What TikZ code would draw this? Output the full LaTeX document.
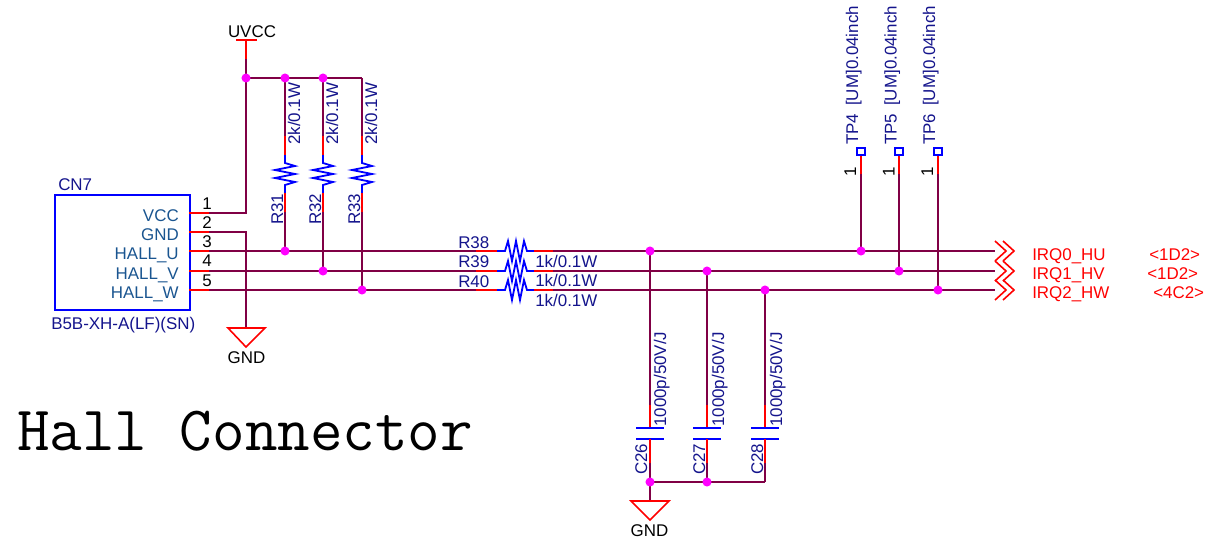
\documentclass[tikz,border=0pt]{standalone}
\usepackage{fontspec}
\setmainfont{Liberation Sans}
\definecolor{wirec}{HTML}{800045}
\definecolor{labc}{HTML}{14148C}
\definecolor{pinc}{HTML}{1A5590}
\definecolor{juncc}{RGB}{255,0,255}
\definecolor{pure}{RGB}{255,0,0}
\definecolor{symc}{RGB}{0,0,255}
\tikzset{
  wire/.style={draw=wirec,line width=1.35pt},
  stub/.style={draw=pure,line width=1.35pt},
  sym/.style={draw=symc,line width=1.35pt,line join=miter},
  powr/.style={draw=pure,line width=1.2pt},
  junc/.style={circle,fill=juncc,inner sep=0pt,minimum size=6.8pt},
  txt/.style={inner sep=0pt,font=\fontsize{12.7}{14}\selectfont},
  lab/.style={txt,text=labc,anchor=base west},
  vlab/.style={txt,text=labc,anchor=base west,rotate=90},
  pinname/.style={txt,text=pinc,anchor=base east},
  pinnum/.style={txt,text=black,anchor=base},
  redlab/.style={txt,text=pure,anchor=base west},
}
\newcommand{\vresistor}[2]{%
  \draw[sym] (#1) -- ++(0,8) -- ++(10,3) -- ++(-20,4) -- ++(20,4) -- ++(-20,4) -- ++(20,4) -- ++(-10,3) -- (#2);}
\newcommand{\hresistor}[2]{%
  \draw[sym] (#1) -- ++(8,0) -- ++(3,-10) -- ++(4,20) -- ++(4,-20) -- ++(4,20) -- ++(4,-20) -- ++(3,10) -- (#2);}
\begin{document}
\begin{tikzpicture}[x=0.75pt,y=-0.75pt]
\useasboundingbox (0,0) rectangle (1220,546);
% connector
\node[draw=symc,line width=1.35pt,minimum width=101.25pt,minimum height=86.25pt,inner sep=0pt,anchor=north west] (cn) at (54,194) {};
\foreach \n/\y in {1/213,2/232,3/251,4/271,5/290}{
  \coordinate (p\n) at (189,\y);
  \coordinate (pe\n) at (209,\y);
}
% junctions positions
\coordinate (uv) at (246,40);
\coordinate (uvs) at (246,59);
\coordinate (jtop) at (246,78);
\coordinate (t1) at (285,78);
\coordinate (t2) at (323,78);
\coordinate (t3) at (362,78);
\coordinate (gt) at (246,328);
\coordinate (gl) at (228,328);
\coordinate (gr) at (265,328);
\coordinate (gb) at (246,347);
% nets
\draw[wire] (pe1) -- (jtop |- pe1) -- (uvs);
\draw[wire] (jtop) -- (t3);
\draw[wire] (pe2) -- (gt |- pe2) -- (gt);
\coordinate (rU) at (476,251); \coordinate (rV) at (476,271); \coordinate (rW) at (476,290);
\coordinate (oU) at (553,251); \coordinate (oV) at (553,271); \coordinate (oW) at (553,290);
\coordinate (eU) at (995,251); \coordinate (eV) at (995,271); \coordinate (eW) at (995,290);
\draw[wire] (pe3) -- (rU);
\draw[wire] (pe4) -- (rV);
\draw[wire] (pe5) -- (rW);
\draw[wire] (oU) -- (eU);
\draw[wire] (oV) -- (eV);
\draw[wire] (oW) -- (eW);
\foreach \n in {1,...,5}{\draw[stub] (p\n) -- (pe\n);}
% pull-ups
\foreach \x/\i/\net in {285/1/251,323/2/271,362/3/290}{
  \coordinate (ra\i) at (\x,136);
  \coordinate (rb\i) at (\x,155);
  \coordinate (rc\i) at (\x,193);
  \coordinate (rd\i) at (\x,212);
  \coordinate (rn\i) at (\x,\net);
  \draw[wire] (t\i) -- (ra\i);
  \draw[stub] (ra\i) -- (rb\i);
  \vresistor{rb\i}{rc\i}
  \draw[stub] (rc\i) -- (rd\i);
  \draw[wire] (rd\i) -- (rn\i);
}
% series resistors
\foreach \n/\y in {U/251,V/271,W/290}{
  \coordinate (sa\n) at (497,\y);
  \coordinate (sb\n) at (534,\y);
  \draw[stub] (r\n) -- (sa\n);
  \hresistor{sa\n}{sb\n}
  \draw[stub] (sb\n) -- (o\n);
}
% capacitors
\foreach \x/\i/\net in {650/1/251,707/2/271,765/3/290}{
  \coordinate (cn\i) at (\x,\net);
  \coordinate (ca\i) at (\x,405);
  \coordinate (cb\i) at (\x,428);
  \coordinate (cc\i) at (\x,439);
  \coordinate (cd\i) at (\x,463);
  \coordinate (ce\i) at (\x,482);
  \draw[wire] (cn\i) -- (ca\i);
  \draw[stub] (ca\i) -- (cb\i);
  \draw[sym] ([xshift=-10.3pt]cb\i) -- ([xshift=10.3pt]cb\i);
  \draw[sym] ([xshift=-10.3pt]cc\i) -- ([xshift=10.3pt]cc\i);
  \draw[stub] (cc\i) -- (cd\i);
  \draw[wire] (cd\i) -- (ce\i);
}
\draw[wire] (ce1) -- (ce3);
\coordinate (g2t) at (650,501);
\coordinate (g2l) at (631,501);
\coordinate (g2r) at (669,501);
\coordinate (g2b) at (650,520);
\draw[wire] (ce1) -- (g2t);
% power symbols
\draw[stub] (uvs) -- (uv);
\draw[powr] (236,40) -- (257,40);
\draw[powr] (gl) -- (gr) -- (gb) -- cycle;
\draw[powr] (g2l) -- (g2r) -- (g2b) -- cycle;
% test points
\foreach \x/\i/\net in {861/4/251,899/5/271,938/6/290}{
  \node[draw=symc,line width=1.35pt,minimum size=5.6pt,inner sep=0pt] (tp\i) at (\x,151.5) {};
  \coordinate (tq\i) at (\x,174);
  \coordinate (tn\i) at (\x,\net);
  \draw[stub] (tp\i) -- (tq\i);
  \draw[wire] (tq\i) -- (tn\i);
  \node[junc] (jt\i) at (tn\i) {};
}
% off-page arrows
\foreach \y in {251,271,290}{
  \draw[powr] (995,\y-10) -- (1006,\y) -- (995,\y+10);
  \draw[powr] (1003,\y-10) -- (1014,\y) -- (1003,\y+10);
}
% junction dots
\foreach \p/\q in {jtop/a,t1/b,t2/c,rn1/d,rn2/e,rn3/f,cn1/g,cn2/h,cn3/i,ce1/j,ce2/k}{
  \node[junc] (jj\q) at (\p) {};
}
% labels
\node[lab] (lcn) at (58,190) {CN7};
\node[pinname] (n1) at (179,221) {VCC};
\node[pinname] (n2) at (179,240) {GND};
\node[pinname] (n3) at (179,259) {HALL\_U};
\node[pinname] (n4) at (179,279) {HALL\_V};
\node[pinname] (n5) at (179,298) {HALL\_W};
\node[lab] (lpn) at (51,329) {B5B-XH-A(LF)(SN)};
\foreach \n/\y in {1/209,2/228,3/247,4/266,5/286}{\node[pinnum] (num\n) at (207,\y) {\n};}
\node[txt,anchor=base,text=black] (luv) at (252,37) {UVCC};
\node[txt,anchor=base,text=black] (lg1) at (246.5,363) {GND};
\node[txt,anchor=base,text=black] (lg2) at (649.5,536) {GND};
\foreach \x/\n in {283/31,321/32,360/33}{
  \node[vlab] (lr\n) at (\x,225) {R\n};
  \node[vlab] (vr\n) at (\x+17,145) {2k/0.1W};
}
\foreach \y/\n in {248/38,267/39,287/40}{
  \node[lab] (lr\n) at (458,\y) {R\n};
  \node[lab] (vr\n) at (535,\y+19) {1k/0.1W};
}
\foreach \x/\n in {647/26,705/27,763/28}{
  \node[vlab] (lc\n) at (\x,475) {C\n};
  \node[vlab] (vc\n) at (\x+19,427) {1000p/50V/J};
}
\foreach \x/\n in {858/4,896.5/5,935/6}{
  \node[vlab] (ltp\n) at (\x,145) {TP\n};
  \node[vlab] (vtp\n) at (\x,106) {[UM]0.04inch};
  \node[txt,text=black,anchor=base west,rotate=90] (ntp\n) at (\x-2,177) {1};
}
\node[redlab] (irq0) at (1032,260) {IRQ0\_HU};
\node[redlab] (irq1) at (1032,279) {IRQ1\_HV};
\node[redlab] (irq2) at (1032,298) {IRQ2\_HW};
\node[redlab] (ref0) at (1149,260) {<1D2>};
\node[redlab] (ref1) at (1147,279) {<1D2>};
\node[redlab] (ref2) at (1153,298) {<4C2>};
\node[inner sep=0pt,anchor=base west,text=black,font=\fontsize{47.4}{50}\ttfamily\selectfont] (title) at (17,450) {Hall Connector};
\end{tikzpicture}
\end{document}
